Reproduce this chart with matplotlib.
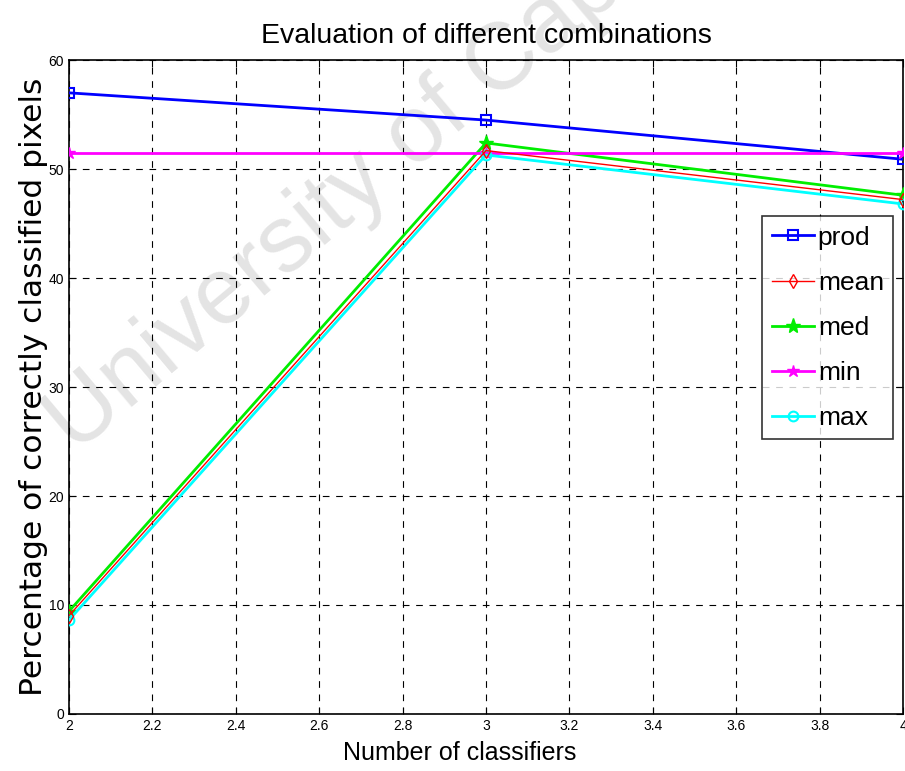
import matplotlib
matplotlib.use("Agg")
import matplotlib.pyplot as plt

plt.rcParams['font.family'] = ['Liberation Sans', 'DejaVu Sans']

n_classifiers = [2, 3, 4]
prod = [57.0, 54.5, 50.9]
mean = [9.0, 51.7, 47.2]
med = [9.4, 52.4, 47.6]
mins = [51.5, 51.5, 51.5]
maxs = [8.6, 51.3, 46.8]

fig = plt.figure(figsize=(9.05, 7.71), dpi=100)
ax = fig.add_axes([0.076, 0.074, 0.922, 0.848])

# watermark
ax.text(75 / 905, 1 - 455 / 771, "University of Cape Town", transform=fig.transFigure,
        rotation=40, rotation_mode='anchor', fontsize=68, color='#e4e4e4',
        ha='left', va='baseline', zorder=0.5, clip_on=False)

ax.plot(n_classifiers, prod, color='#0000ff', lw=2, marker='s', ms=7,
        mfc='none', mew=1.5, label='prod', zorder=3)
ax.plot(n_classifiers, mean, color='#ff0000', lw=1, marker='d', ms=7,
        mfc='none', mew=1, label='mean', zorder=4)
ax.plot(n_classifiers, med, color='#00ee00', lw=2, marker='*', ms=11,
        label='med', zorder=3)
ax.plot(n_classifiers, mins, color='#ff00ff', lw=2, marker='*', ms=9,
        label='min', zorder=3)
ax.plot(n_classifiers, maxs, color='#00ffff', lw=2, marker='o', ms=7,
        mfc='none', mew=1.5, label='max', zorder=3)

ax.set_xlim(2, 4)
ax.set_ylim(0, 60)
ax.set_xticks([2, 2.2, 2.4, 2.6, 2.8, 3, 3.2, 3.4, 3.6, 3.8, 4])
ax.set_xticklabels(['2', '2.2', '2.4', '2.6', '2.8', '3', '3.2', '3.4', '3.6', '3.8', '4'])
ax.set_yticks([0, 10, 20, 30, 40, 50, 60])
ax.tick_params(direction='in', top=True, right=True, labelsize=10, length=5)
ax.grid(True, color='black', linestyle=(0, (6, 6)), linewidth=0.8)
for s in ax.spines.values():
    s.set_linewidth(1.2)

ax.set_title('Evaluation of different combinations', fontsize=20.5, pad=12)
ax.set_xlabel('Number of classifiers', fontsize=18)
ax.xaxis.set_label_coords(0.468, -0.042, transform=ax.transAxes)
ax.xaxis.label.set_va('top')
ax.set_ylabel('Percentage of correctly classified pixels', fontsize=22.5,
              family='DejaVu Sans', labelpad=0)

leg = ax.legend(loc='upper right', bbox_to_anchor=(0.988, 0.761), fontsize=19,
                frameon=True, fancybox=False, edgecolor='black',
                handlelength=1.6, handletextpad=0.15, borderpad=0.35,
                labelspacing=0.8, borderaxespad=0)
leg.get_frame().set_linewidth(1.2)

fig.savefig('out.png', dpi=100)
